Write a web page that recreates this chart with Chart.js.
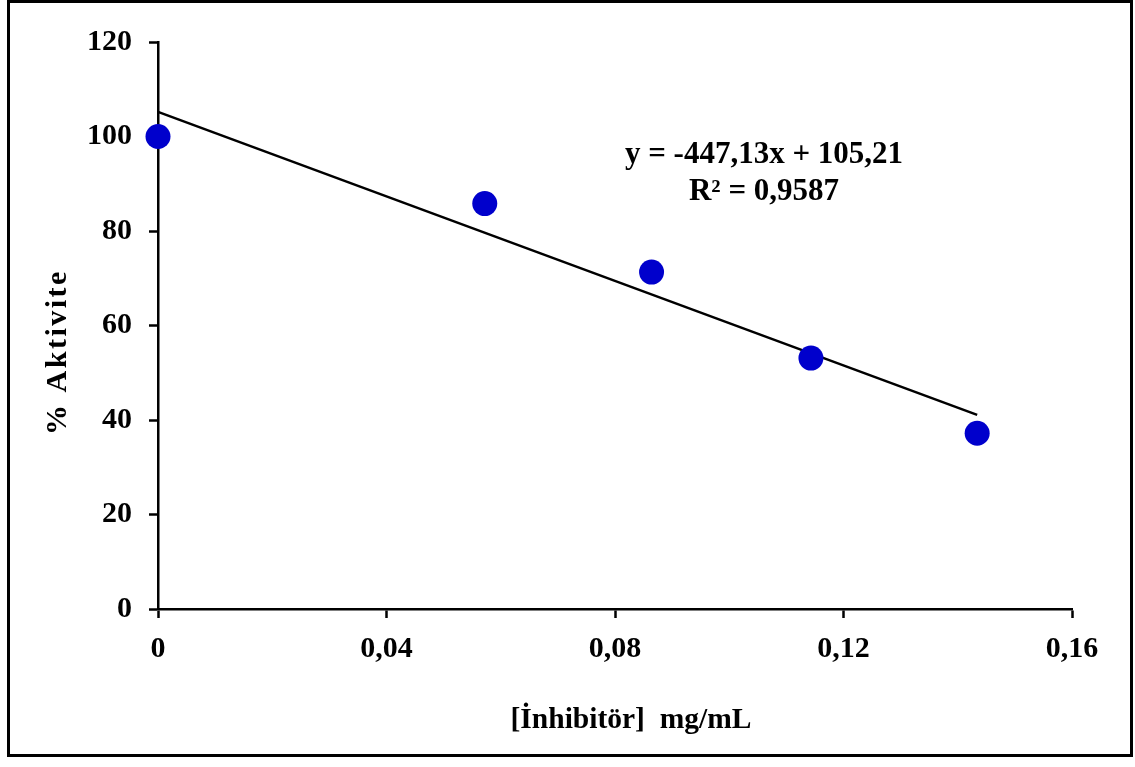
<!DOCTYPE html>
<html>
<head>
<meta charset="utf-8">
<script src="https://cdn.jsdelivr.net/npm/chart.js@4.4.1/dist/chart.umd.min.js"></script>
<style>
  html, body { margin: 0; padding: 0; background: #fff; }
  #wrap { width: 1135px; height: 767px; position: relative; }
</style>
</head>
<body>
<div id="wrap"><canvas id="c" width="1135" height="767"></canvas></div>
<script>
// Data
const inhibitorConc = [0, 0.0572, 0.0864, 0.1143, 0.1434];
const activityPct   = [100.0, 85.8, 71.3, 53.1, 37.2];
// Trendline endpoints (y = -447,13x + 105,21)
const trendX = [0, 0.1434];
const trendY = [105.21, 41.09];
const xTickLabels = ['0', '0,04', '0,08', '0,12', '0,16'];
const yTickLabels = ['0', '20', '40', '60', '80', '100', '120'];
const equationText = ['y = -447,13x + 105,21', 'R² = 0,9587'];
const xTitle = '[İnhibitör]  mg/mL';
const yTitle = '% Aktivite';

const FONT = '"Liberation Serif", "Times New Roman", serif';

const decorPlugin = {
  id: 'decor',
  beforeDraw(chart) {
    const ctx = chart.ctx;
    ctx.save();
    ctx.fillStyle = '#fff';
    ctx.fillRect(0, 0, chart.width, chart.height);
    ctx.restore();
  },
  afterDraw(chart) {
    const ctx = chart.ctx;
    ctx.save();
    // outer frame
    ctx.strokeStyle = '#000';
    ctx.lineWidth = 3;
    ctx.strokeRect(8.5, 1.5, 1123, 754);
    // equation annotation
    ctx.fillStyle = '#000';
    ctx.font = 'bold 31px ' + FONT;
    ctx.textAlign = 'center';
    ctx.textBaseline = 'middle';
    ctx.fillText(equationText[0], 764, 155);
    ctx.fillText(equationText[1], 764, 192);
    // x title
    ctx.font = 'bold 29.5px ' + FONT;
    ctx.fillText(xTitle, 631, 720);
    // y title
    ctx.font = 'bold 30px ' + FONT;
    if ('letterSpacing' in ctx) ctx.letterSpacing = '2.5px';
    ctx.translate(58, 352);
    ctx.rotate(-Math.PI / 2);
    ctx.fillText(yTitle, 0, 0);
    ctx.restore();
  }
};

new Chart(document.getElementById('c'), {
  type: 'scatter',
  data: {
    datasets: [
      {
        type: 'line',
        label: 'Trend',
        data: trendX.map((x, i) => ({ x: x, y: trendY[i] })),
        borderColor: '#000',
        borderWidth: 2.5,
        pointRadius: 0,
        fill: false,
        clip: false,
        order: 2
      },
      {
        label: '% Aktivite',
        data: inhibitorConc.map((x, i) => ({ x: x, y: activityPct[i] })),
        backgroundColor: '#0000CC',
        borderColor: '#0000CC',
        borderWidth: 0,
        pointRadius: 12.5,
        pointHoverRadius: 12.5,
        clip: false,
        order: 1
      }
    ]
  },
  options: {
    responsive: false,
    animation: false,
    devicePixelRatio: 1,
    layout: { padding: { top: 42, right: 63, left: 0, bottom: 0 } },
    plugins: {
      legend: { display: false },
      tooltip: { enabled: false }
    },
    scales: {
      x: {
        type: 'linear',
        min: 0, max: 0.16,
        afterFit(scale) { scale.height = 158; },
        afterBuildTicks(scale) {
          scale.ticks = xTickLabels.map((_, i) => ({ value: i * 0.04 }));
        },
        ticks: {
          callback: (v, i) => xTickLabels[i],
          color: '#000',
          font: { family: FONT, size: 30, weight: 'bold' },
          padding: 13,
          maxRotation: 0,
          autoSkip: false
        },
        grid: {
          drawOnChartArea: false,
          drawTicks: true,
          tickLength: 9,
          tickWidth: 2.5,
          tickColor: '#000'
        },
        border: { display: true, color: '#000', width: 2.5 }
      },
      y: {
        type: 'linear',
        min: 0, max: 120,
        afterFit(scale) { scale.width = 158; },
        afterBuildTicks(scale) {
          scale.ticks = yTickLabels.map((_, i) => ({ value: i * 20 }));
        },
        ticks: {
          callback: (v, i) => yTickLabels[i],
          color: '#000',
          font: { family: FONT, size: 30, weight: 'bold' },
          padding: 17,
          autoSkip: false
        },
        grid: {
          drawOnChartArea: false,
          drawTicks: true,
          tickLength: 9,
          tickWidth: 2.5,
          tickColor: '#000'
        },
        border: { display: true, color: '#000', width: 2.5 }
      }
    }
  },
  plugins: [decorPlugin]
});
</script>
</body>
</html>
